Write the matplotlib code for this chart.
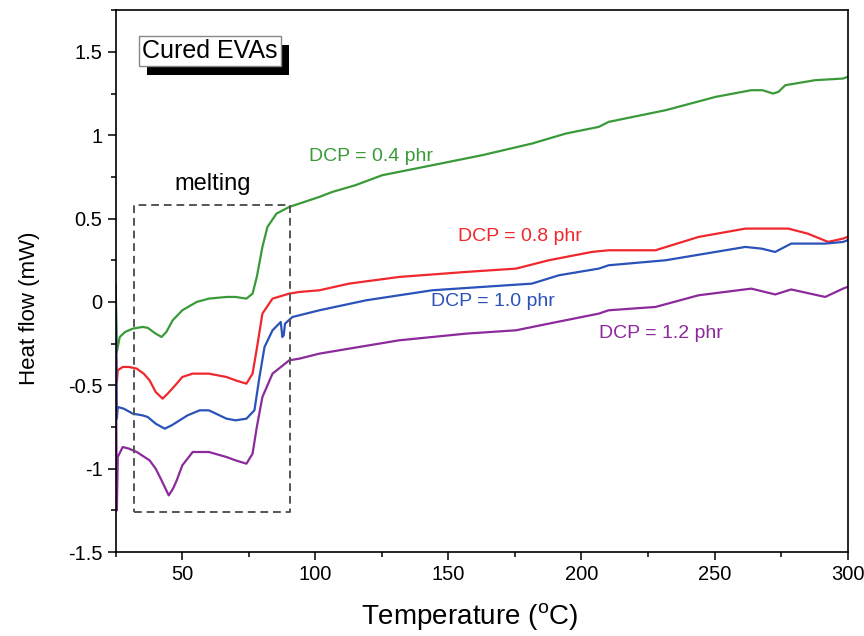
import matplotlib
matplotlib.use('Agg')
import matplotlib.pyplot as plt
import matplotlib.patheffects as pe
from matplotlib.ticker import MultipleLocator, FuncFormatter

plt.rcParams['font.family'] = ['Liberation Sans', 'DejaVu Sans']
plt.rcParams['axes.unicode_minus'] = False

#DSC traces (Temperature in C, heat flow in mW)
t_04 = [25.0, 25.4, 25.75, 26.5, 28.5, 31.4, 35, 37, 40, 42.2, 44, 46.4, 50, 55.4, 60, 66.6, 70, 74.1,
        76.4, 78, 80.1, 82, 85.4, 90.2, 94, 101.5, 106.4, 115, 125.1, 143.9, 162.6, 181.4, 194.1,
        206.5, 210.2, 231.6, 250.4, 263.8, 268, 272, 274, 276.6, 287.8, 298.3, 300]
hf_04 = [0.05, -0.30, -0.27, -0.21, -0.18, -0.16, -0.15, -0.155, -0.19, -0.21, -0.18, -0.11, -0.05,
         0.00, 0.02, 0.03, 0.03, 0.02, 0.05, 0.15, 0.33, 0.45, 0.53, 0.57, 0.59, 0.63, 0.66, 0.70,
         0.76, 0.82, 0.88, 0.95, 1.01, 1.05, 1.08, 1.15, 1.23, 1.27, 1.27, 1.25, 1.26, 1.30, 1.33,
         1.34, 1.35]

t_08 = [25.0, 25.4, 25.75, 27.6, 30, 32.9, 35.5, 37.7, 40, 42.6, 44.5, 47.9, 50, 53.9, 60, 66.6, 70,
        74.1, 76.4, 78, 80.1, 83.9, 90.2, 94, 101.5, 112.7, 131.5, 156.6, 175.4, 187.7, 203.9,
        210.2, 227.8, 244, 261.6, 277.7, 285, 292.7, 298.3, 300]
hf_08 = [-0.20, -0.48, -0.41, -0.39, -0.39, -0.40, -0.43, -0.47, -0.54, -0.58, -0.55, -0.49, -0.45,
         -0.43, -0.43, -0.45, -0.47, -0.49, -0.43, -0.28, -0.07, 0.02, 0.05, 0.06, 0.07, 0.11, 0.15,
         0.18, 0.20, 0.25, 0.30, 0.31, 0.31, 0.39, 0.44, 0.44, 0.41, 0.36, 0.38, 0.39]

t_10 = [25.0, 25.4, 25.75, 28, 31.4, 35, 37, 40, 43.4, 46, 49, 52, 56.5, 60, 66.6, 70, 74.1, 77.1,
        79, 80.9, 83.9, 87.0, 87.6, 88.1, 88.6, 91.4, 94, 101.5, 119.1, 143.9, 162.6, 181.4, 191.5,
        206.5, 210.2, 231.6, 261.6, 267.6, 272.8, 278.8, 291.6, 298.3, 300]
hf_10 = [0.10, -0.70, -0.63, -0.64, -0.67, -0.68, -0.69, -0.73, -0.76, -0.74, -0.71, -0.68, -0.65,
         -0.65, -0.70, -0.71, -0.70, -0.65, -0.45, -0.27, -0.17, -0.12, -0.21, -0.20, -0.13, -0.09,
         -0.08, -0.05, 0.01, 0.07, 0.09, 0.11, 0.16, 0.20, 0.22, 0.25, 0.33, 0.32, 0.30, 0.35, 0.35,
         0.36, 0.37]

t_12 = [25.0, 25.4, 25.75, 27.6, 30, 32.9, 37.7, 40, 42.2, 44.9, 46.5, 47.9, 50, 53.9, 60, 66.6, 70,
        74.1, 76.4, 78, 80.1, 83.9, 90.2, 94, 101.5, 112.7, 131.5, 156.6, 175.4, 187.7, 206.5,
        210.2, 227.8, 244, 263.8, 272.8, 278.8, 291.6, 298.3, 300]
hf_12 = [-0.19, -1.25, -0.93, -0.87, -0.88, -0.90, -0.95, -1.0, -1.07, -1.16, -1.12, -1.07, -0.98,
         -0.90, -0.90, -0.93, -0.95, -0.97, -0.91, -0.75, -0.57, -0.43, -0.35, -0.34, -0.31, -0.28,
         -0.23, -0.19, -0.17, -0.13, -0.07, -0.05, -0.03, 0.04, 0.08, 0.045, 0.075, 0.03, 0.08, 0.09]

series = [(t_04, hf_04, '#3a9a3a', 'DCP = 0.4 phr', 97.5, 0.87),
          (t_08, hf_08, '#f0282d', 'DCP = 0.8 phr', 153.5, 0.39),
          (t_10, hf_10, '#2b52b8', 'DCP = 1.0 phr', 143.5, 0.0),
          (t_12, hf_12, '#8c2a9c', 'DCP = 1.2 phr', 206.5, -0.19)]

fig = plt.figure(figsize=(8.64, 6.36), dpi=100)
ax = fig.add_axes([0.134, 0.132, 0.847, 0.852])

for t, hf, col, lab, lx, ly in series:
    ax.plot(t, hf, '-', color=col, lw=1.6)
    ax.text(lx, ly, lab, color=col, fontsize=14, ha='left', va='center')

#melting region
box_x = [31.75, 90.6, 90.6, 31.75, 31.75]
box_y = [-1.26, -1.26, 0.58, 0.58, -1.26]
ax.plot(box_x, box_y, '--', color='#555555', lw=1.4, dashes=(4, 2.5))
ax.text(61.5, 0.71, 'melting', fontsize=17, ha='center', va='center')

#title box with a black drop shadow
title = ax.text(0.036, 0.924, 'Cured EVAs', transform=ax.transAxes, fontsize=18, ha='left', va='center',
                color='k', bbox=dict(boxstyle='square,pad=0.12', facecolor='white', edgecolor='#888888', lw=1))
title.get_bbox_patch().set_path_effects([pe.SimplePatchShadow(offset=(6, -6), shadow_rgbFace='k', alpha=1.0),
                                         pe.Normal()])

ax.set_xlim(25, 300)
ax.set_ylim(-1.5, 1.75)
ax.xaxis.set_major_locator(MultipleLocator(50))
ax.xaxis.set_minor_locator(MultipleLocator(25))
ax.yaxis.set_major_locator(MultipleLocator(0.5))
ax.yaxis.set_minor_locator(MultipleLocator(0.25))
ax.yaxis.set_major_formatter(FuncFormatter(lambda v, p: '%g' % v))
ax.tick_params(which='both', direction='out', top=False, right=False, labelsize=14.5, width=1.1)
ax.tick_params(which='major', length=6)
ax.tick_params(which='minor', length=3.5)
for s in ax.spines.values():
    s.set_linewidth(1.2)

ax.set_xlabel('Temperature ($\\mathregular{^o}$C)', fontsize=20)
ax.set_ylabel('Heat flow (mW)', fontsize=16)
ax.xaxis.set_label_coords(0.484, -0.09)
ax.yaxis.set_label_coords(-0.104, 0.45)

fig.savefig('out.png', dpi=100)
